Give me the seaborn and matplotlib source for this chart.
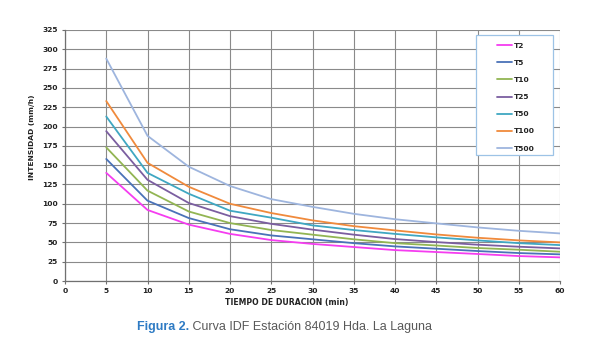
import matplotlib
matplotlib.use("Agg")
import matplotlib.pyplot as plt
from matplotlib.lines import Line2D
from matplotlib.patches import Rectangle
import pandas as pd
import seaborn as sns

duracion = [5, 10, 15, 20, 25, 30, 35, 40, 45, 50, 55, 60]
t2 = [140, 92, 73, 61, 53, 48, 44, 40, 37.5, 35, 32.3, 30.6]
t5 = [158, 104, 81.5, 67, 59, 54, 49, 44.8, 41.8, 38.8, 36.2, 34.5]
t10 = [173, 117, 90, 75, 66, 60, 54, 49, 46, 42.7, 40.5, 37.9]
t25 = [194, 131, 101, 84, 74, 66.5, 60, 54.3, 50.4, 47, 44.4, 42.2]
t50 = [213, 140, 113, 91, 82, 72, 66, 61, 56.5, 52.6, 49, 46.5]
t100 = [233, 153, 122, 100, 88, 78.5, 71, 65.5, 60.3, 56, 52.6, 50]
t500 = [288, 188, 148, 123, 106, 96, 87, 80, 74.6, 69.4, 65, 61.6]

series = ["T2", "T5", "T10", "T25", "T50", "T100", "T500"]
colores = ["#F53DF0", "#4A72B8", "#92B553", "#7B5EA0", "#3FA7C2", "#F08A3C", "#9EB5DE"]

y_ticks = list(range(0, 326, 25))
x_ticks = list(range(0, 61, 5))


def main():
    sns.set_theme(style="white")
    plt.rcParams["font.family"] = ["DejaVu Sans"]

    valores = [t2, t5, t10, t25, t50, t100, t500]
    df = pd.DataFrame({
        "duracion": duracion * len(series),
        "intensidad": [v for s in valores for v in s],
        "serie": [s for s in series for _ in duracion],
    })

    fig = plt.figure(figsize=(5.89, 3.55), dpi=100)
    ax = fig.add_axes([65 / 589, 1 - 281 / 355, 495 / 589, 251 / 355])

    sns.lineplot(data=df, x="duracion", y="intensidad", hue="serie",
                 palette=dict(zip(series, colores)), hue_order=series,
                 linewidth=1.3, legend=False, ax=ax, zorder=3)

    ax.set_xlim(0, 60)
    ax.set_ylim(0, 325)
    ax.set_xticks(x_ticks)
    ax.set_yticks(y_ticks)
    ax.grid(True, color="#8a8a8a", linewidth=0.8)
    for s in ["top", "right"]:
        ax.spines[s].set_visible(False)
    for s in ["left", "bottom"]:
        ax.spines[s].set_color("#707070")
        ax.spines[s].set_linewidth(0.9)
    ax.tick_params(axis="both", which="major", direction="out", length=2.5,
                   width=0.8, color="#707070", labelsize=5.4, pad=2.5,
                   bottom=True, left=True)
    for lab in ax.get_xticklabels() + ax.get_yticklabels():
        lab.set_fontweight("bold")
        lab.set_color("#222222")

    ax.set_xlabel("")
    ax.set_ylabel("")
    fig.text(32 / 589, 1 - 137 / 355, "INTENSIDAD (mm/h)", rotation=90,
             fontsize=5.4, fontweight="bold", color="#222222",
             ha="center", va="center")
    fig.text(287 / 589, 1 - 303 / 355, "TIEMPO DE DURACION (min)",
             fontsize=5.6, fontweight="bold", color="#222222",
             ha="center", va="center")

    # caja de la leyenda
    caja = Rectangle((0.830, 0.502), 0.156, 0.478, transform=ax.transAxes,
                     facecolor="white", edgecolor="#9DC3E6", linewidth=0.9,
                     zorder=4)
    ax.add_patch(caja)
    handles = [Line2D([], [], color=c, linewidth=1.3) for c in colores]
    leg = ax.legend(handles, series, loc="upper left",
                    bbox_to_anchor=(0.860, 0.974), frameon=False,
                    fontsize=5.4, handlelength=2.1, handletextpad=0.2,
                    labelspacing=1.45, borderpad=0.3)
    leg.set_zorder(5)
    for txt in leg.get_texts():
        txt.set_fontweight("bold")
        txt.set_color("#222222")

    # pie de figura
    t1 = fig.text(137 / 589, 1 - 327 / 355, "Figura 2.", fontsize=9,
                  fontweight="bold", color="#2E7BC4", family="Liberation Sans",
                  ha="left", va="center")
    fig.canvas.draw()
    bb = t1.get_window_extent(fig.canvas.get_renderer())
    fig.text(bb.x1 / fig.bbox.width, 1 - 327 / 355,
             " Curva IDF Estación 84019 Hda. La Laguna", fontsize=9,
             color="#595959", family="Liberation Sans", ha="left", va="center")

    fig.savefig("out.png", dpi=100)


if __name__ == "__main__":
    main()
